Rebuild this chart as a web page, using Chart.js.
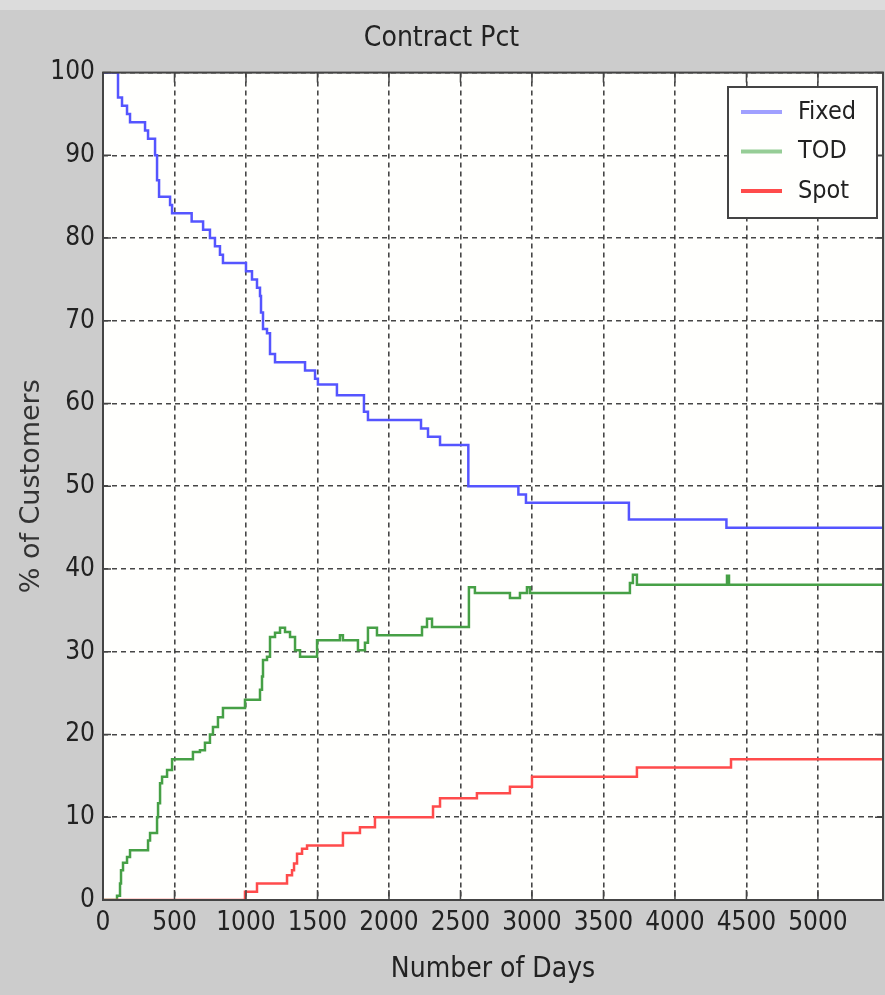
<!DOCTYPE html>
<html>
<head>
<meta charset="utf-8">
<script src="https://cdn.jsdelivr.net/npm/chart.js@4.4.1/dist/chart.umd.min.js"></script>
<style>
  html, body { margin: 0; padding: 0; background: #cccccc; }
  #wrap { width: 885px; height: 995px; }
</style>
</head>
<body>
<div id="wrap"><canvas id="myChart" width="885" height="995"></canvas></div>
<script>
// values (day at which the share changes, new share in %)
const fixedDays = [0, 105, 133, 168, 189, 294, 315, 364, 378, 392, 469, 483, 620, 700, 748, 783, 818, 839, 1000, 1042, 1077, 1098, 1105, 1119, 1147, 1168, 1203, 1413, 1483, 1503, 1636, 1825, 1853, 2224, 2273, 2357, 2555, 2905, 2958, 3678, 4360, 5455];
const fixedPct  = [100, 97, 96, 95, 94, 93, 92, 90, 87, 85, 84, 83, 82, 81, 80, 79, 78, 77, 76, 75, 74, 73, 71, 69, 68.5, 66, 65, 64, 63, 62.3, 61, 59, 58, 57, 56, 55, 50, 49, 48, 46, 45, 45];

const todDays = [0, 98, 119, 126, 140, 168, 189, 315, 329, 378, 385, 399, 413, 448, 483, 629, 678, 713, 748, 769, 804, 839, 993, 1098, 1112, 1119, 1147, 1168, 1203, 1238, 1273, 1308, 1343, 1378, 1497, 1657, 1678, 1783, 1832, 1853, 1916, 2231, 2266, 2301, 2329, 2559, 2601, 2846, 2916, 2965, 2986, 3685, 3706, 3734, 4364, 4378, 5455];
const todPct  = [0, 0.5, 2, 3.6, 4.5, 5.2, 6, 7.2, 8.1, 10, 11.7, 14.1, 14.9, 15.7, 17, 17.9, 18.1, 19, 20, 20.9, 22.1, 23.2, 24.2, 25.4, 27, 29, 29.4, 31.8, 32.3, 32.9, 32.4, 31.8, 30.2, 29.4, 31.4, 32, 31.4, 30.2, 31.1, 32.9, 32, 33, 34, 33, 33, 37.8, 37.1, 36.5, 37.1, 37.8, 37.1, 38.3, 39.3, 38.1, 39.2, 38.1, 38.1];

const spotDays = [0, 993, 1077, 1287, 1322, 1336, 1357, 1392, 1427, 1678, 1797, 1902, 2308, 2357, 2615, 2846, 3000, 3734, 4392, 5455];
const spotPct  = [0, 1, 2, 3, 3.6, 4.4, 5.6, 6.2, 6.6, 8.1, 8.8, 10, 11.3, 12.3, 12.9, 13.7, 14.9, 16, 17, 17];

const xTickValues = [0, 500, 1000, 1500, 2000, 2500, 3000, 3500, 4000, 4500, 5000];
const yTickValues = [0, 10, 20, 30, 40, 50, 60, 70, 80, 90, 100];

const NARROW = "'Liberation Sans Narrow', 'DejaVu Sans Condensed', 'Arial Narrow', sans-serif";

function toPoints(days, pct) {
  return days.map((d, i) => ({ x: d, y: pct[i] }));
}

// grey figure background, white axes box, top strip
const backdrop = {
  id: 'backdrop',
  beforeDraw(chart) {
    const { ctx, chartArea: a } = chart;
    ctx.save();
    ctx.fillStyle = '#cccccc';
    ctx.fillRect(0, 0, chart.width, chart.height);
    ctx.fillStyle = '#dcdcdc';
    ctx.fillRect(0, 0, chart.width, 10);
    ctx.fillStyle = '#fffffd';
    ctx.fillRect(a.left, a.top, a.right - a.left, a.bottom - a.top);
    ctx.restore();
  }
};

// box round the axes and inward tick marks, like the matlab figure
const axesBox = {
  id: 'axesBox',
  afterDraw(chart) {
    const { ctx, chartArea: a, scales } = chart;
    ctx.save();
    ctx.strokeStyle = '#444';
    ctx.lineWidth = 2;
    ctx.strokeRect(a.left, a.top, a.right - a.left, a.bottom - a.top);
    ctx.lineWidth = 1.5;
    ctx.beginPath();
    scales.x.ticks.forEach(t => {
      const px = scales.x.getPixelForValue(t.value);
      ctx.moveTo(px, a.bottom); ctx.lineTo(px, a.bottom - 10);
      ctx.moveTo(px, a.top); ctx.lineTo(px, a.top + 10);
    });
    scales.y.ticks.forEach(t => {
      const py = scales.y.getPixelForValue(t.value);
      ctx.moveTo(a.left, py); ctx.lineTo(a.left + 8, py);
      ctx.moveTo(a.right, py); ctx.lineTo(a.right - 8, py);
    });
    ctx.stroke();
    ctx.restore();
  }
};

// legend box in the upper right corner
const boxLegend = {
  id: 'boxLegend',
  afterDraw(chart) {
    const { ctx } = chart;
    const x = 728, y = 87, w = 149, h = 131;
    ctx.save();
    ctx.fillStyle = '#fffffd';
    ctx.fillRect(x, y, w, h);
    ctx.strokeStyle = '#444';
    ctx.lineWidth = 2;
    ctx.strokeRect(x, y, w, h);
    ctx.font = '25px ' + NARROW;
    ctx.textBaseline = 'middle';
    ctx.fillStyle = '#222';
    chart.data.datasets.forEach((ds, i) => {
      const ly = y + 25 + i * 39.5;
      ctx.strokeStyle = ds.legendColor;
      ctx.lineWidth = 4;
      ctx.beginPath();
      ctx.moveTo(741, ly);
      ctx.lineTo(782, ly);
      ctx.stroke();
      ctx.fillText(ds.label, 798, ly);
    });
    ctx.restore();
  }
};

const chartCanvas = document.getElementById('myChart');

new Chart(chartCanvas, {
  type: 'line',
  data: {
    datasets: [{
      label: 'Fixed',
      data: toPoints(fixedDays, fixedPct),
      borderColor: 'rgb(85, 85, 255)',
      legendColor: 'rgb(160, 160, 255)',
      borderWidth: 2.5,
      stepped: true,
      pointRadius: 0,
      fill: false,
      order: 2
    }, {
      label: 'TOD',
      data: toPoints(todDays, todPct),
      borderColor: 'rgb(70, 160, 70)',
      legendColor: 'rgb(150, 205, 150)',
      borderWidth: 2.5,
      stepped: true,
      pointRadius: 0,
      fill: false,
      order: 1
    }, {
      label: 'Spot',
      data: toPoints(spotDays, spotPct),
      borderColor: 'rgb(255, 75, 75)',
      legendColor: 'rgb(255, 75, 75)',
      borderWidth: 2.5,
      stepped: true,
      pointRadius: 0,
      fill: false,
      order: 0
    }]
  },
  options: {
    responsive: false,
    animation: false,
    layout: { padding: { left: 0, right: 2, top: 0, bottom: 0 } },
    plugins: {
      legend: { display: false },
      tooltip: { enabled: false },
      title: {
        display: true,
        text: 'Contract Pct',
        color: '#222',
        font: { family: NARROW, size: 28, weight: 'normal' },
        padding: { top: 22, bottom: 17 }
      }
    },
    scales: {
      x: {
        type: 'linear',
        min: 0,
        max: 5455,
        afterFit(scale) { scale.height = 95; },
        afterBuildTicks(scale) { scale.ticks = xTickValues.map(v => ({ value: v })); },
        ticks: {
          color: '#222',
          font: { family: NARROW, size: 26 },
          padding: 8,
          maxRotation: 0,
          autoSkip: false,
          callback: v => String(v)
        },
        grid: {
          color: 'rgba(50, 50, 50, 0.9)',
          lineWidth: 1.6,
          drawTicks: false
        },
        border: { display: false, dash: [5, 4] },
        title: {
          display: true,
          text: 'Number of Days',
          color: '#222',
          font: { family: NARROW, size: 28 },
          padding: { top: 0, bottom: 8 }
        }
      },
      y: {
        min: 0,
        max: 100,
        afterFit(scale) { scale.width = 103; },
        afterBuildTicks(scale) { scale.ticks = yTickValues.map(v => ({ value: v })); },
        ticks: {
          color: '#222',
          font: { family: NARROW, size: 26 },
          padding: 8,
          autoSkip: false,
          callback: v => String(v)
        },
        grid: {
          color: 'rgba(50, 50, 50, 0.9)',
          lineWidth: 1.6,
          drawTicks: false
        },
        border: { display: false, dash: [5, 4] },
        title: {
          display: true,
          text: '% of Customers',
          color: '#333',
          font: { family: "'DejaVu Sans', sans-serif", size: 27 },
          padding: { top: 16, bottom: 0 }
        }
      }
    }
  },
  plugins: [backdrop, axesBox, boxLegend]
});
</script>
</body>
</html>
